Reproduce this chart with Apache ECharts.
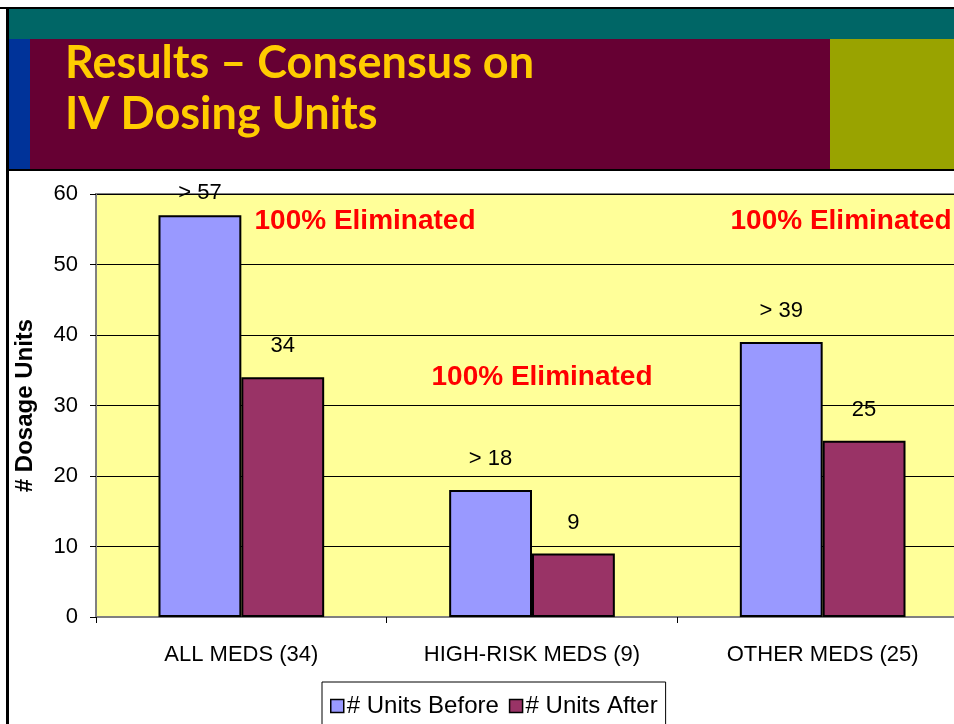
<!DOCTYPE html>
<html>
<head>
<meta charset="UTF-8">
<title>IV Dosing Units</title>
<script src="https://cdn.jsdelivr.net/npm/echarts@6/dist/echarts.min.js"></script>
<style>
  body { margin: 0; background: #fff; overflow: hidden; }
  /* plot runs past the right edge of the window, as in the slide */
  #main { width: 968px; height: 724px; }
</style>
</head>
<body>
<div id="main"></div>
<script type="text/javascript">
// chart data
var categories = ['ALL MEDS (34)', 'HIGH-RISK MEDS (9)', 'OTHER MEDS (25)'];
var unitsBefore = [57, 18, 39];
var unitsAfter = [34, 9, 25];
var seriesNames = ['# Units Before', '# Units After'];
var titleLines = ['Results \u2013 Consensus on', 'IV Dosing Units'];
var noteText = '100% Eliminated';

var myChart = echarts.init(document.getElementById('main'));

var baseFont = 'Liberation Sans, Arial, sans-serif';
var titleFont = 'Lato, Open Sans, sans-serif';

// first label sits closer to its bar (it runs into the top of the plot)
var beforeData = unitsBefore.map(function (v, i) {
  return i === 0 ? { value: v, label: { distance: 11 } } : v;
});

function note(x, y) {
  return {
    type: 'text', x: x, y: y, z: 100,
    style: { text: noteText, fill: '#FF0000', font: 'bold 28px ' + baseFont, align: 'center', verticalAlign: 'middle' }
  };
}

var option = {
  backgroundColor: '#ffffff',
  animation: false,
  textStyle: { fontFamily: baseFont },
  graphic: [
    // slide header
    { type: 'rect', shape: { x: 0, y: 7, width: 968, height: 2 }, style: { fill: '#000' } },
    { type: 'rect', shape: { x: 9, y: 9, width: 959, height: 30 }, style: { fill: '#006666' } },
    { type: 'rect', shape: { x: 9, y: 39, width: 21, height: 130 }, style: { fill: '#003399' } },
    { type: 'rect', shape: { x: 30, y: 39, width: 800, height: 130 }, style: { fill: '#660033' } },
    { type: 'rect', shape: { x: 830, y: 39, width: 138, height: 130 }, style: { fill: '#99A300' } },
    { type: 'rect', shape: { x: 7, y: 169, width: 961, height: 2 }, style: { fill: '#000' } },
    { type: 'rect', shape: { x: 6, y: 7, width: 3, height: 717 }, style: { fill: '#000' } },
    {
      type: 'text', left: 65, top: 41,
      style: { text: titleLines[0], fill: '#FFCC00', font: 'bold 45px ' + titleFont }
    },
    {
      type: 'text', left: 65, top: 92,
      style: { text: titleLines[1], fill: '#FFCC00', font: 'bold 45px ' + titleFont }
    },
    // annotations in the plot
    note(365, 221),
    note(542, 377),
    note(841, 221)
  ],
  legend: {
    data: seriesNames,
    left: 322,
    top: 682,
    orient: 'horizontal',
    itemWidth: 13,
    itemHeight: 13,
    itemGap: 10,
    icon: 'rect',
    borderColor: '#000',
    borderWidth: 1,
    padding: [12, 8, 30, 8],
    textStyle: { fontSize: 24, color: '#000', fontFamily: baseFont, padding: [0, 0, 0, -2] },
    itemStyle: { borderColor: '#000', borderWidth: 1.5 }
  },
  grid: {
    left: 96,
    top: 194,
    bottom: 107,
    right: 0,
    show: true,
    backgroundColor: '#FFFF99',
    borderColor: '#808080',
    borderWidth: 2
  },
  xAxis: {
    type: 'category',
    data: categories,
    axisLine: { lineStyle: { color: '#808080', width: 2 } },
    axisTick: { show: true, length: 6, lineStyle: { color: '#000' } },
    axisLabel: { color: '#000', fontSize: 22, margin: 27, fontFamily: baseFont }
  },
  yAxis: {
    type: 'value',
    min: 0,
    max: 60,
    interval: 10,
    name: '# Dosage Units',
    nameLocation: 'middle',
    nameGap: 59,
    nameTextStyle: { color: '#000', fontSize: 24, fontWeight: 'bold', fontFamily: baseFont },
    axisLine: { show: true, lineStyle: { color: '#808080', width: 2 } },
    axisTick: { show: true, length: 6, lineStyle: { color: '#000' } },
    axisLabel: { color: '#000', fontSize: 22, margin: 18, fontFamily: baseFont },
    splitLine: { lineStyle: { color: '#000', width: 1 } }
  },
  series: [
    {
      name: seriesNames[0],
      type: 'bar',
      data: beforeData,
      barGap: 0,
      barCategoryGap: '43%',
      itemStyle: { color: '#9999FF', borderColor: '#000', borderWidth: 2 },
      label: {
        show: true, position: 'top', distance: 20, color: '#000', fontSize: 22,
        formatter: function (p) { return '> ' + p.value; }
      }
    },
    {
      name: seriesNames[1],
      type: 'bar',
      data: unitsAfter,
      barGap: 0,
      barCategoryGap: '43%',
      itemStyle: { color: '#993366', borderColor: '#000', borderWidth: 2 },
      label: { show: true, position: 'top', distance: 20, color: '#000', fontSize: 22 }
    }
  ]
};

myChart.setOption(option);
</script>
</body>
</html>
